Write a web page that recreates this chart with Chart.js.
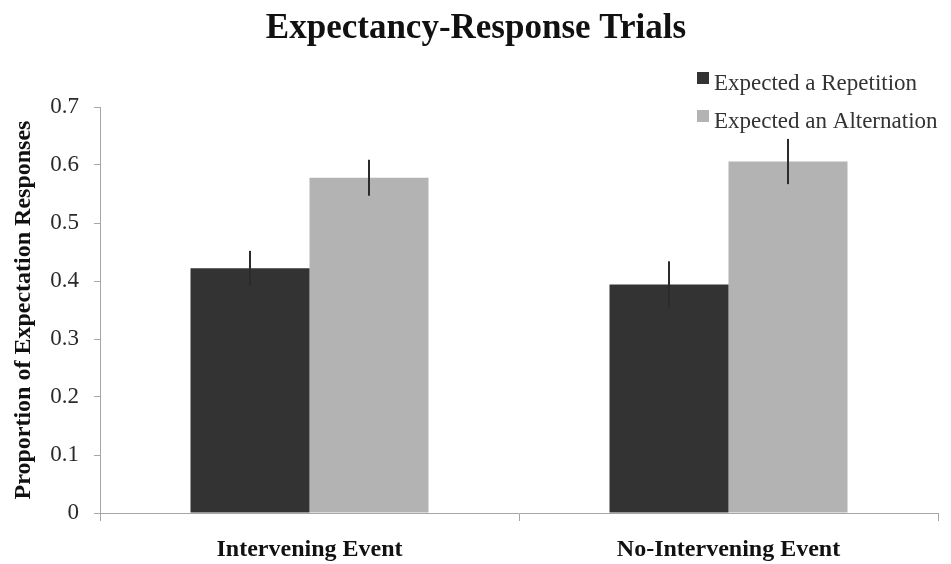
<!DOCTYPE html>
<html>
<head>
<meta charset="utf-8">
<script src="https://cdn.jsdelivr.net/npm/chart.js@4"></script>
<style>
html,body{margin:0;padding:0;background:#fff;}
#wrap{width:951px;height:564px;position:relative;}
</style>
</head>
<body>
<div id="wrap"><canvas id="c" width="951" height="564"></canvas></div>
<script>
const categories = ["Intervening Event", "No-Intervening Event"];
const seriesNames = ["Expected a Repetition", "Expected an Alternation"];
const repetitionValues = [0.422, 0.394];
const alternationValues = [0.578, 0.606];
const repetitionErrors = [0.030, 0.040];
const alternationErrors = [0.031, 0.039];
const yTicks = [0, 0.1, 0.2, 0.3, 0.4, 0.5, 0.6, 0.7];
const titleText = "Expectancy-Response Trials";
const yAxisTitle = "Proportion of Expectation Responses";

const serif = "'Liberation Serif', 'DejaVu Serif', serif";
const errorsBySeries = [repetitionErrors, alternationErrors];

const errorBarPlugin = {
  id: 'errorBars',
  afterDatasetsDraw(chart) {
    const ctx = chart.ctx;
    const y = chart.scales.y;
    chart.data.datasets.forEach((ds, i) => {
      const meta = chart.getDatasetMeta(i);
      meta.data.forEach((bar, j) => {
        const v = ds.data[j], e = errorsBySeries[i][j];
        ctx.save();
        ctx.strokeStyle = '#2b2b2b';
        ctx.lineWidth = 2;
        ctx.beginPath();
        ctx.moveTo(bar.x, y.getPixelForValue(v + e));
        ctx.lineTo(bar.x, y.getPixelForValue(v - e));
        ctx.stroke();
        ctx.restore();
      });
    });
  }
};

const decorPlugin = {
  id: 'decor',
  afterDraw(chart) {
    const ctx = chart.ctx;
    ctx.save();
    ctx.fillStyle = '#111';
    ctx.font = "bold 35px " + serif;
    ctx.textAlign = 'center';
    ctx.textBaseline = 'alphabetic';
    ctx.fillText(titleText, 476, 38);
    ctx.font = "23px " + serif;
    ctx.textAlign = 'left';
    const legendBase = [90, 128];
    chart.data.datasets.forEach((ds, i) => {
      ctx.fillStyle = ds.backgroundColor;
      ctx.fillRect(697, legendBase[i] - 18, 12, 12);
      ctx.fillStyle = '#333';
      ctx.fillText(ds.label, 714, legendBase[i]);
    });
    ctx.restore();
  }
};

new Chart(document.getElementById('c'), {
  type: 'bar',
  data: {
    labels: categories,
    datasets: [
      { label: seriesNames[0], data: repetitionValues, backgroundColor: '#333333' },
      { label: seriesNames[1], data: alternationValues, backgroundColor: '#b3b3b3' }
    ]
  },
  options: {
    responsive: false,
    animation: false,
    devicePixelRatio: 1,
    layout: { padding: { top: 107, right: 13, left: 0, bottom: 0 } },
    datasets: { bar: { categoryPercentage: 0.568, barPercentage: 1.0 } },
    plugins: { legend: { display: false }, title: { display: false }, tooltip: { enabled: false } },
    scales: {
      x: {
        grid: { drawOnChartArea: false, drawTicks: true, tickLength: 8, color: '#a6a6a6', offset: true },
        border: { color: '#a6a6a6', width: 1 },
        ticks: { color: '#111', font: { family: serif, size: 24, weight: 'bold' }, padding: 14 },
        afterFit(s) { s.height = 51; }
      },
      y: {
        min: 0, max: 0.7,
        afterBuildTicks(s) { s.ticks = yTicks.map(v => ({ value: v })); },
        grid: { drawOnChartArea: false, drawTicks: true, tickLength: 6, color: '#a6a6a6' },
        border: { color: '#a6a6a6', width: 1 },
        ticks: {
          color: '#2a2a2a', font: { family: serif, size: 23 }, padding: 15,
          callback: v => String(+v.toFixed(1))
        },
        title: { display: true, text: yAxisTitle, color: '#111', font: { family: serif, size: 24, weight: 'bold' }, padding: { top: 9, bottom: 0 } },
        afterFit(s) { s.width = 100; }
      }
    }
  },
  plugins: [errorBarPlugin, decorPlugin]
});
</script>
</body>
</html>
